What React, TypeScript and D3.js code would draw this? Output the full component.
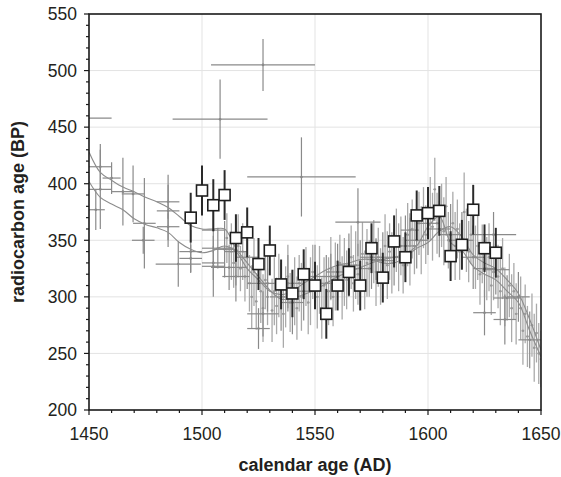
import React from "react";
import * as d3 from "d3";

// ---- data ----
// black squares: year, radiocarbon age, 1-sigma
const sqYears = [1495,1500,1505,1510,1515,1520,1525,1530,1535,1540,1545,1550,1555,1560,1565,1570,1575,1580,1585,1590,1595,1600,1605,1610,1615,1620,1625,1630];
const sqAges  = [370,394,381,390,352,357,329,341,311,303,320,310,285,310,322,310,343,317,349,335,372,374,376,336,346,377,343,339];
const sqErrs  = [22,22,23,22,21,22,23,22,22,21,22,21,22,22,21,22,22,22,23,22,22,23,22,22,22,22,21,22];

// calibration curves
const curveYears = [1450,1455,1460,1465,1470,1475,1480,1485,1490,1495,1500,1505,1510,1515,1520,1525,1530,1535,1540,1545,1550,1555,1560,1565,1570,1575,1580,1585,1590,1595,1600,1605,1610,1615,1620,1625,1630,1635,1640,1645,1650];
const curveA = [428,410,403,397,393,388,384,379,371,363,360,360,360,343,330,318,306,298,299,302,306,312,318,322,326,330,333,335,338,345,362,371,348,341,327,320,315,305,295,270,247];
const curveB = [402,388,382,377,369,364,361,357,348,342,339,341,345,340,325,315,305,302,305,312,318,324,328,330,333,333,330,330,335,343,348,358,362,353,337,330,325,315,303,280,253];

// crosshair measurements: year, age, year error, age error
const crossYears = [1446,1455,1455,1453,1460,1465,1469.5,1474.5,1474,1485,1485,1485,1489.5,1495,1495,1505,1505,1508,1527,1544,1505,1507,1510,1512,1515,1515,1520,1529,1527,1525,1535,1540,1545,1550,1555,1560,1565,1569,1570,1575,1580,1585,1590,1595,1600,1605,1610,1615,1620,1625,1629,1625,1634,1635,1630,1645,1640,1592,1577,1557,1538];
const crossAges  = [458,415,395,377,405,393,391,365,350,384,376,362,329,340,334,327,330,457,505,406,359,343,342,326,340,318,335,312,285,272,300,295,305,318,312,322,328,366,325,335,332,335,345,350,365,360,355,350,335,325,355,286,280,299,324,262,300,359,333,318,312];
const crossXErr  = [14,5,5,4,4,5,5,5,5,5,5,5,10,5,5,5,5,21,23,24,5,7,5,8,5,6,5,9,7,5,5,5,5,5,5,5,5,10,5,5,5,5,5,5,5,5,5,5,5,5,10,5,5,6,6,5,5,4,4,4,6];
const crossYErr  = [22,20,35,18,14,30,25,40,12,15,32,12,20,19,12,27,15,35,23,35,20,18,25,20,30,22,28,25,20,18,30,28,26,28,25,25,28,30,25,28,25,25,27,25,28,25,27,25,28,25,20,20,22,20,22,25,22,15,18,20,25];

// annual measurements (light grey): year, age, age error
const annYears = [1511,1513,1514,1516,1517,1518,1519,1521,1522,1523,1524,1526,1527,1528,1529,1531,1532,1533,1534,1536,1537,1538,1539,1541,1542,1543,1544,1546,1547,1548,1549,1551,1552,1553,1554,1556,1557,1558,1559,1561,1562,1563,1564,1566,1567,1568,1569,1571,1572,1573,1574,1576,1577,1578,1579,1581,1582,1583,1584,1586,1587,1588,1589,1591,1592,1593,1594,1596,1597,1598,1599,1601,1602,1603,1604,1606,1607,1608,1609,1611,1612,1613,1614,1616,1617,1618,1619,1621,1622,1623,1624,1626,1627,1628,1629,1631,1632,1633,1634,1636,1637,1638,1639,1641,1642,1643,1644,1646,1647,1648,1649,1650];
const annAges  = [352,340,330,345,325,340,318,312,300,322,296,305,290,315,300,288,305,292,310,285,300,318,295,305,290,312,300,318,295,305,322,300,315,290,310,305,325,300,318,330,308,322,315,335,312,328,320,338,315,330,325,340,322,335,318,345,328,340,330,350,335,345,328,355,340,360,345,365,350,370,355,378,362,395,365,372,358,380,350,365,345,360,340,375,350,340,355,335,345,320,338,325,335,310,322,318,305,325,300,310,290,305,285,290,270,285,265,275,255,268,250,245];
const annErrs  = [22,25,22,28,20,25,22,25,28,30,25,28,30,26,25,28,30,25,28,30,27,28,26,30,28,25,30,26,28,30,24,28,30,27,25,30,28,26,30,25,28,30,26,28,25,30,27,28,26,30,25,28,30,26,25,28,30,25,27,28,30,26,25,28,30,26,25,28,30,27,26,28,30,28,27,28,30,26,25,28,30,26,25,35,28,27,26,28,30,27,26,28,30,26,25,28,30,27,26,28,30,25,27,28,30,26,27,28,30,26,27,25];

const xTicks = [1450, 1500, 1550, 1600, 1650];
const yTicks = [200, 250, 300, 350, 400, 450, 500, 550];

// ---- layout ----
const W = 561, H = 477;
const L = 89, R = 541, T = 14, B = 410;
const FONT = "'Liberation Sans', Arial, Helvetica, sans-serif";

export default function App() {
  const x = d3.scaleLinear().domain([1450, 1650]).range([L, R]);
  const y = d3.scaleLinear().domain([200, 550]).range([B, T]);
  const xMinor = d3.range(1450, 1651, 10);
  const yMinor = d3.range(200, 551, 10);
  const line = (vals: number[]) =>
    d3.line<number>().x((_, i) => x(curveYears[i])).y((v) => y(v)).curve(d3.curveCatmullRom)(vals) || "";

  return (
    <svg width={W} height={H} style={{ position: "absolute", left: 0, top: 0, background: "#fff" }} fontFamily={FONT}>
      <defs>
        <clipPath id="plot"><rect x={L} y={T} width={R - L} height={B - T} /></clipPath>
      </defs>
      {/* grid */}
      {xTicks.slice(1, -1).map((t) => (
        <line key={"gx" + t} x1={x(t)} x2={x(t)} y1={T} y2={B} stroke="#e3e3e3" strokeWidth={1} />
      ))}
      {yTicks.slice(1, -1).map((t) => (
        <line key={"gy" + t} x1={L} x2={R} y1={y(t)} y2={y(t)} stroke="#e3e3e3" strokeWidth={1} />
      ))}
      <g clipPath="url(#plot)">
        {/* light annual bars */}
        {annYears.map((yr, i) => (
          <g key={"a" + i} stroke="#aaaaaa" strokeWidth={1.3}>
            <line x1={x(yr)} x2={x(yr)} y1={y(annAges[i] - annErrs[i])} y2={y(annAges[i] + annErrs[i])} />
            <line x1={x(yr - 0.6)} x2={x(yr + 0.6)} y1={y(annAges[i])} y2={y(annAges[i])} />
            <circle cx={x(yr)} cy={y(annAges[i])} r={1.2} fill="#999" stroke="none" />
          </g>
        ))}
        {/* crosshairs */}
        {crossYears.map((yr, i) => (
          <g key={"c" + i} stroke="#8a8a8a" strokeWidth={1.2}>
            <line x1={x(yr)} x2={x(yr)} y1={y(crossAges[i] - crossYErr[i])} y2={y(crossAges[i] + crossYErr[i])} />
            <line x1={x(yr - crossXErr[i])} x2={x(yr + crossXErr[i])} y1={y(crossAges[i])} y2={y(crossAges[i])} />
            <circle cx={x(yr)} cy={y(crossAges[i])} r={1.3} fill="#888" stroke="none" />
          </g>
        ))}
        {/* curves */}
        <path d={line(curveA)} fill="none" stroke="#8c8c8c" strokeWidth={1.1} />
        <path d={line(curveB)} fill="none" stroke="#8c8c8c" strokeWidth={1.1} />
        {/* squares */}
        {sqYears.map((yr, i) => (
          <line key={"se" + i} x1={x(yr)} x2={x(yr)} y1={y(sqAges[i] - sqErrs[i])} y2={y(sqAges[i] + sqErrs[i])} stroke="#2a2a2a" strokeWidth={2} />
        ))}
        {sqYears.map((yr, i) => (
          <rect key={"s" + i} x={x(yr) - 5.5} y={y(sqAges[i]) - 5.5} width={11} height={11} fill="#fff" stroke="#1e1e1e" strokeWidth={1.6} />
        ))}
      </g>
      {/* frame */}
      <rect x={L} y={T} width={R - L} height={B - T} fill="none" stroke="#1a1a1a" strokeWidth={1.6} />
      {/* x ticks */}
      {xMinor.map((t) => (
        <line key={"xt" + t} x1={x(t)} x2={x(t)} y1={B} y2={B + (t % 50 === 0 ? 5 : 3)} stroke="#1a1a1a" strokeWidth={1.2} />
      ))}
      {yMinor.map((t) => (
        <line key={"yt" + t} x1={L} x2={L - (t % 50 === 0 ? 5 : 3)} y1={y(t)} y2={y(t)} stroke="#1a1a1a" strokeWidth={1.2} />
      ))}
      {xTicks.map((t) => (
        <text key={"xl" + t} x={x(t)} y={440} textAnchor="middle" fontSize={17.5} fill="#231f20">{t}</text>
      ))}
      {yTicks.map((t) => (
        <text key={"yl" + t} x={77} y={y(t) + 6.3} textAnchor="end" fontSize={17.5} fill="#231f20">{t}</text>
      ))}
      <text x={(L + R) / 2} y={471} textAnchor="middle" fontSize={18} fontWeight="bold" fill="#231f20">calendar age (AD)</text>
      <text transform={`translate(24, ${(T + B) / 2}) rotate(-90)`} textAnchor="middle" fontSize={18} fontWeight="bold" fill="#231f20">radiocarbon age (BP)</text>
    </svg>
  );
}
